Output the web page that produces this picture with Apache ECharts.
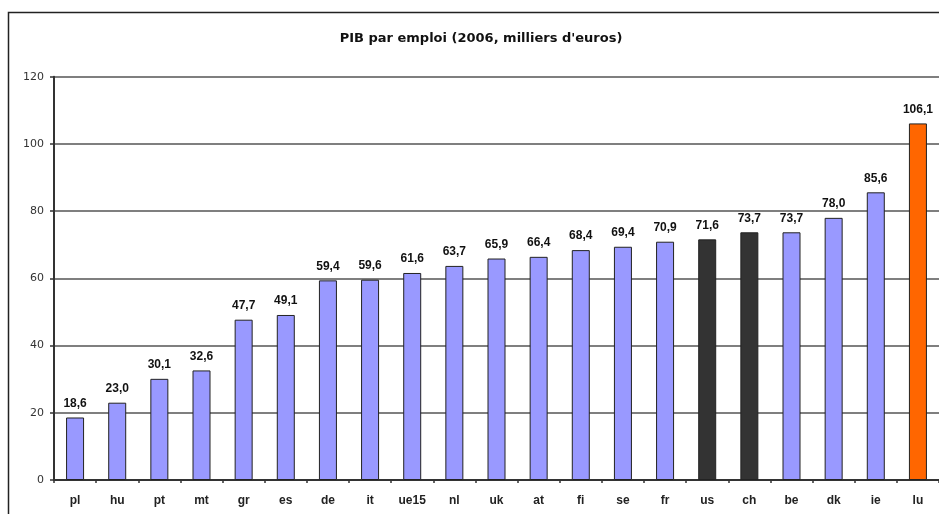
<!DOCTYPE html>
<html>
<head>
<meta charset="utf-8">
<title>PIB par emploi</title>
<script src="https://cdn.jsdelivr.net/npm/echarts@6/dist/echarts.min.js"></script>
<style>
  html, body { margin: 0; padding: 0; background: #fff; }
  #main { width: 939px; height: 514px; }
</style>
</head>
<body>
<div id="main"></div>
<script>
  // pays, du plus petit au plus grand
  var countries = ['pl', 'hu', 'pt', 'mt', 'gr', 'es', 'de', 'it', 'ue15', 'nl', 'uk',
    'at', 'fi', 'se', 'fr', 'us', 'ch', 'be', 'dk', 'ie', 'lu'];
  // PIB par emploi, milliers d'euros
  var pibValues = [18.6, 23.0, 30.1, 32.6, 47.7, 49.1, 59.4, 59.6, 61.6, 63.7, 65.9,
    66.4, 68.4, 69.4, 70.9, 71.6, 73.7, 73.7, 78.0, 85.6, 106.1];
  var yTicks = [0, 20, 40, 60, 80, 100, 120];
  var darkOnes = ['us', 'ch'];
  var orangeOnes = ['lu'];

  var myChart = echarts.init(document.getElementById('main'));

  myChart.setOption({
    backgroundColor: '#fff',
    animation: false,
    title: {
      text: "PIB par emploi (2006, milliers d'euros)",
      left: 476,
      top: 27,
      textAlign: 'center',
      textStyle: {
        fontFamily: 'DejaVu Sans',
        fontSize: 13,
        fontWeight: 'bold',
        color: '#111'
      }
    },
    // cadre du graphique
    graphic: [{
      type: 'rect',
      shape: { x: 8.5, y: 12.5, width: 1000, height: 1000 },
      style: { fill: 'none', stroke: '#222', lineWidth: 1.5 },
      silent: true
    }],
    grid: {
      left: 54,
      right: 0,
      top: 76.7,
      bottom: 34,
      containLabel: false
    },
    xAxis: {
      type: 'category',
      data: countries,
      axisLine: { lineStyle: { color: '#333', width: 2 } },
      axisTick: { show: true, length: 3, interval: 0, lineStyle: { color: '#333', width: 1.5 } },
      axisLabel: {
        interval: 0,
        margin: 15,
        fontFamily: 'Liberation Sans',
        fontSize: 12,
        fontWeight: 'bold',
        color: '#222'
      }
    },
    yAxis: {
      type: 'value',
      min: yTicks[0],
      max: yTicks[yTicks.length - 1],
      interval: 20,
      axisLine: { show: true, lineStyle: { color: '#333', width: 2 } },
      axisTick: { show: true, length: 4, lineStyle: { color: '#333', width: 1.5 } },
      axisLabel: {
        margin: 10,
        fontFamily: 'DejaVu Sans',
        fontSize: 11,
        color: '#333'
      },
      splitLine: { lineStyle: { color: '#555', width: 1.5 } }
    },
    series: [{
      type: 'bar',
      data: pibValues,
      barWidth: 18,
      itemStyle: {
        color: function (p) {
          if (darkOnes.indexOf(p.name) >= 0) return '#333333';
          if (orangeOnes.indexOf(p.name) >= 0) return '#ff6600';
          return '#9999ff';
        },
        borderColor: '#222',
        borderWidth: 1
      },
      label: {
        show: true,
        position: 'top',
        distance: 8,
        fontFamily: 'Liberation Sans',
        fontSize: 12,
        fontWeight: 'bold',
        color: '#111',
        formatter: function (p) {
          return p.value.toFixed(1).replace('.', ',');
        }
      }
    }]
  });
</script>
</body>
</html>
